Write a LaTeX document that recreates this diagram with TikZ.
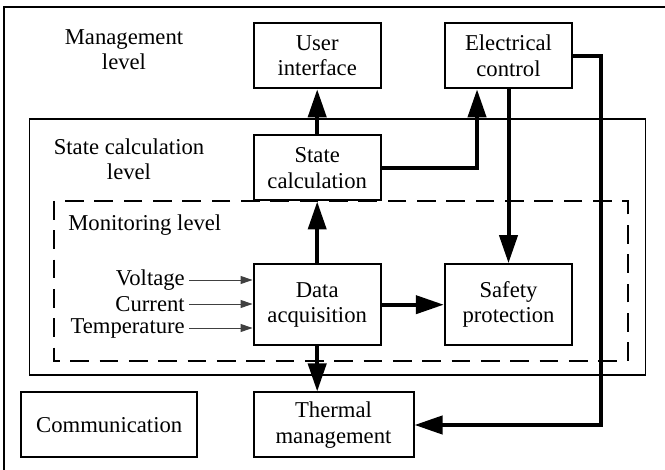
\documentclass[tikz,border=0pt]{standalone}
\usepackage{fontspec}
\setmainfont{Liberation Serif}
\usetikzlibrary{arrows.meta}

\begin{document}
\begin{tikzpicture}
[x=0.75pt,y=-0.75pt,
  every node/.style={align=center,font=\fontsize{17}{19}\selectfont},
  box/.style={draw,line width=1.5pt,inner sep=0pt,
    minimum width=95.5pt,minimum height=48.75pt},
  tallbox/.style={box,minimum height=60.75pt},
  big/.style={-{Triangle[length=21pt,width=13.5pt]},line width=3pt},
  small/.style={-{Triangle[length=9pt,width=6pt]},line width=0.7pt,black!75}]
\useasboundingbox (0,0) rectangle (665,470);
% frame and level areas
\draw[line width=2.2pt] (4,470) -- (4,7) -- (665,7);
\draw[line width=1.1pt] (29.7,119) rectangle (645.5,375);
\draw[line width=1.5pt,dash pattern=on 14pt off 8pt] (54.3,201) rectangle (627.6,361);
% level labels
\node (mgmt) at (124,50) {Management\\level};
\node (statelvl) at (129,159.5) {State calculation\\level};
\node[anchor=west,inner sep=0pt] (monlvl) at (68,225) {Monitoring level};
% blocks
\node[box] (ui) at (317.2,55.8) {User\\interface};
\node[box] (ec) at (508.5,55.8) {Electrical\\control};
\node[box] (sc) at (317.2,168) {State\\calculation};
\node[tallbox] (da) at (317.2,304.7) {Data\\acquisition};
\node[tallbox] (sp) at (508.5,304.7) {Safety\\protection};
\node[box,minimum width=132pt] (comm) at (109.2,425) {Communication};
\node[box,minimum width=120pt] (tm) at (333.5,425) {Thermal\\management};
% inputs
\node[anchor=east,inner sep=0pt] (volt) at (185,280) {Voltage};
\node[anchor=east,inner sep=0pt] (curr) at (185,304) {Current};
\node[anchor=east,inner sep=0pt] (temp) at (185,328) {Temperature};
\foreach \n in {volt,curr,temp}
  \draw[small] ([xshift=3pt]\n.east) -- (\n.east -| da.west);
% connections
\draw[big] (sc) -- (ui);
\draw[big] (sc.east) -| ([xshift=-23.6pt]ec.south);
\draw[big] (ec) -- (sp);
\draw[big] (ec.east) -- ++(28,0) |- (tm.east);
\draw[big] (da) -- (sc);
\draw[big] (da) -- (sp);
\draw[big] (da.south) -- (da.south |- tm.north);
\end{tikzpicture}
\end{document}
